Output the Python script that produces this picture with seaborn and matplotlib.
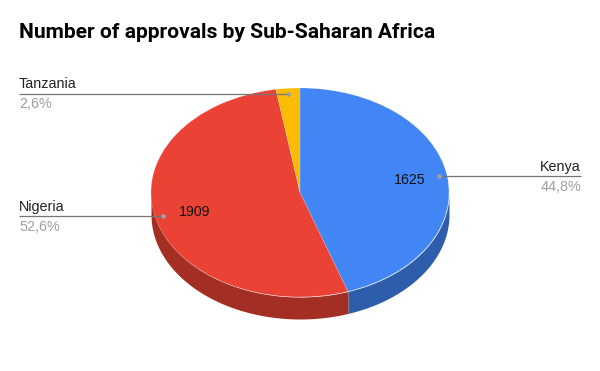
import numpy as np
import matplotlib
matplotlib.use('Agg')
import matplotlib.pyplot as plt
import seaborn as sns

title = 'Number of approvals by Sub-Saharan Africa'
countries = ['Kenya', 'Nigeria', 'Tanzania']
approvals = [1625, 1909, 94]
percent_labels = ['44,8%', '52,6%', '2,6%']
colors = ['#4285F4', '#EA4335', '#FBBC04']
dark_colors = ['#2E5DAB', '#A32E24', '#B08403']

W, H = 600, 371
sns.set_theme(style='white')
plt.rcParams['font.family'] = ['Liberation Sans', 'DejaVu Sans']

fig = plt.figure(figsize=(W / 100, H / 100), dpi=100)

# pie axes, unit circle is squashed into the 149 x 104.5 px ellipse
cx, cy, rx, ry = 300, 192.5, 149, 104.5
depth = 22 / ry
ax = fig.add_axes([(cx - rx) / W, 1 - (cy + ry + 22) / H, 2 * rx / W, (2 * ry + 22) / H])

# side wall first, walking clockwise from 12 o'clock
fracs = np.array(approvals) / sum(approvals)
edges = np.concatenate([[0], np.cumsum(fracs)]) * 2 * np.pi
for i in range(len(approvals)):
    t = np.linspace(edges[i], edges[i + 1], 200)
    x = np.sin(t)
    y = np.cos(t)
    # only the front half of the rim can be seen
    mask = y <= 0.02
    if mask.sum() > 1:
        ax.fill_between(x[mask], y[mask] - depth, y[mask], color=dark_colors[i], lw=0)

ax.pie(approvals, colors=colors, startangle=90, counterclock=False, radius=1,
       wedgeprops={'linewidth': 0.25, 'edgecolor': '#ffffff66', 'clip_on': False})
ax.set_aspect('auto')
ax.set_xlim(-1, 1)
ax.set_ylim(-1 - depth, 1)
ax.axis('off')

# overlay in pixel coords for title, leader lines and labels
top = fig.add_axes([0, 0, 1, 1], facecolor='none')
top.set_xlim(0, W)
top.set_ylim(H, 0)
top.axis('off')

top.text(19, 37.5, title, fontsize=15.1, fontweight='bold', family='Roboto', color='black')

leaders = [(439, 581, 176, 439, 'right'), (19, 163, 216, 163, 'left'), (19, 288, 93.5, 288, 'left')]
for i, (x0, x1, y, dot, ha) in enumerate(leaders):
    top.plot([x0, x1], [y, y], color='#757575', lw=0.9, solid_capstyle='butt')
    top.plot(dot, y, 'o', color='#9e9e9e', ms=3.4, mew=0)
    tx = 581 if ha == 'right' else 19
    top.text(tx, y - 5.5, countries[i], fontsize=10.4, color='#222222', ha=ha, va='baseline')
    top.text(tx, y + 15, percent_labels[i], fontsize=10.4, color='#9e9e9e', ha=ha, va='baseline')

top.text(409.5, 180.5, str(approvals[0]), fontsize=10.2, color='#111111', ha='center', va='center')
top.text(194.5, 211.5, str(approvals[1]), fontsize=10.2, color='#111111', ha='center', va='center')

fig.savefig('out.png', dpi=100, facecolor='white')
